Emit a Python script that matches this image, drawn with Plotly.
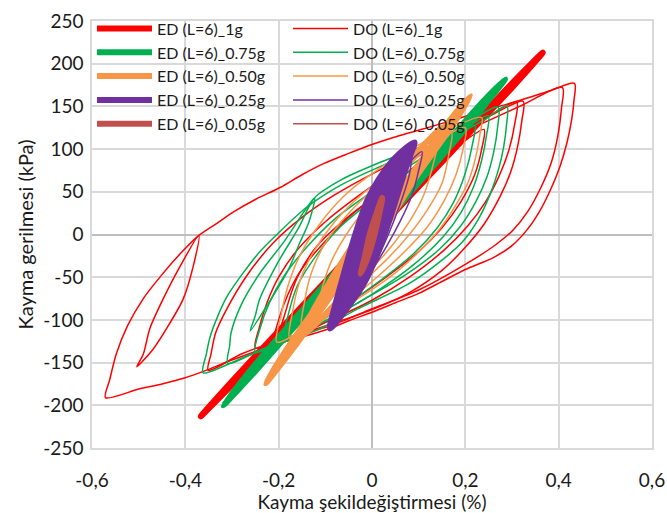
import plotly.graph_objects as go

# ---------------- axis ticks ----------------
X_TICKS = [-0.6, -0.4, -0.2, 0, 0.2, 0.4, 0.6]
X_TICK_LABELS = ["-0,6", "-0,4", "-0,2", "0", "0,2", "0,4", "0,6"]
Y_TICKS = [-250, -200, -150, -100, -50, 0, 50, 100, 150, 200, 250]
Y_TICK_LABELS = ["-250", "-200", "-150", "-100", "-50", "0", "50", "100", "150", "200", "250"]

# ---------------- series (strain %, stress kPa); None separates loops ----------------
# ED (L=6)_1g
ED_1G_X = [-0.367, -0.3, -0.2, -0.1, 0.0, 0.1, 0.2, 0.3, 0.366, 0.3, 0.2, 0.1, 0.0, -0.1, -0.2, -0.3, -0.367]
ED_1G_Y = [-213, -172, -113, -55, 3, 61, 119, 177, 213, 172, 114, 56, -2, -60, -118, -176, -213]

# DO (L=6)_1g
DO_1G_X = [-0.571, -0.562, -0.548, -0.524, -0.49, -0.45, -0.41, -0.371, -0.33, -0.295, -0.25, -0.197, -0.15, -0.104, -0.05, 0.003, 0.06, 0.125, 0.18, 0.24, 0.316, 0.38, 0.434,
           0.433, 0.428, 0.418, 0.403, 0.383, 0.36, 0.333, 0.3, 0.26, 0.2, 0.15, 0.1, 0.05, 0.0, -0.05, -0.09, -0.15, -0.203, -0.26, -0.31, -0.36, -0.402, -0.45, -0.5, -0.571, None,
           -0.371, -0.383, -0.405, -0.44, -0.47, -0.504, -0.49, -0.476, -0.448, -0.411, -0.371, None,
           -0.351, -0.345, -0.335, -0.311, -0.268, -0.212, -0.15, -0.081, 0.011, 0.125, 0.24, 0.316, 0.408,
           0.406, 0.398, 0.384, 0.362, 0.335, 0.302, 0.265, 0.2, 0.1, 0.0, -0.09, -0.2, -0.28, -0.351, None,
           -0.25, -0.242, -0.225, -0.2, -0.16, -0.1, -0.03, 0.05, 0.15, 0.25, 0.324,
           0.321, 0.312, 0.297, 0.274, 0.24, 0.2, 0.15, 0.08, 0.0, -0.1, -0.18, -0.25, None,
           -0.21, -0.2, -0.18, -0.15, -0.1, -0.04, 0.04, 0.13, 0.22, 0.31,
           0.306, 0.293, 0.272, 0.243, 0.205, 0.155, 0.08, 0.0, -0.1, -0.21, None,
           -0.2, -0.185, -0.16, -0.12, -0.066, 0.003, 0.072, 0.164, 0.24,
           0.235, 0.22, 0.19, 0.15, 0.1, 0.03, -0.05, -0.13, -0.2]
DO_1G_Y = [-191, -170, -140, -107, -75, -47, -22, -1, 14, 27, 41, 55, 70, 83, 95, 106, 116, 126, 135, 145, 157, 168, 177,
           158, 135, 108, 80, 53, 28, 6, -13, -27, -41, -55, -69, -80, -91, -101, -110, -120, -128, -139, -149, -160, -168, -175, -181, -191, None,
           -1, -37, -76, -110, -135, -155, -140, -110, -76, -37, -1, None,
           -159, -140, -115, -87, -48, -10, 20, 46, 74, 104, 131, 150, 172,
           148, 115, 84, 55, 28, 5, -12, -35, -65, -87, -107, -124, -140, -159, None,
           -133, -110, -80, -50, -18, 15, 45, 75, 108, 138, 156,
           133, 103, 73, 44, 12, -15, -42, -68, -88, -107, -121, -133, None,
           -128, -100, -70, -40, -8, 25, 58, 95, 128, 155,
           130, 98, 68, 38, 10, -18, -50, -77, -103, -128, None,
           -126, -90, -50, -15, 14, 43, 66, 96, 123,
           100, 70, 38, 8, -20, -50, -80, -105, -126]

# ED (L=6)_0.75g
ED_075G_X = [-0.319, -0.25, -0.15, -0.05, 0.05, 0.15, 0.22, 0.285, 0.22, 0.15, 0.05, -0.05, -0.15, -0.25, -0.319]
ED_075G_Y = [-200, -152, -89, -26, 38, 101, 145, 182, 137, 92, 29, -35, -98, -160, -200]

# DO (L=6)_0.75g
DO_075G_X = [-0.362, -0.355, -0.347, -0.33, -0.31, -0.276, -0.24, -0.2, -0.142, -0.066, 0.011, 0.087, 0.163, 0.24, 0.289,
             0.288, 0.282, 0.271, 0.253, 0.228, 0.195, 0.15, 0.081, -0.026, -0.118, -0.204, -0.28, -0.362, None,
             -0.309, -0.305, -0.302, -0.279, -0.241, -0.188, -0.123,
             -0.135, -0.155, -0.18, -0.226, -0.261, -0.25, -0.241, -0.203, -0.157, -0.123,
             -0.066, 0.011, 0.087, 0.163, 0.27,
             0.269, 0.261, 0.246, 0.222, 0.19, 0.145, 0.07, -0.03, -0.12, -0.2, -0.25, -0.309, None,
             -0.25, -0.24, -0.22, -0.19, -0.14, -0.08, 0.0, 0.08, 0.17, 0.249,
             0.245, 0.235, 0.217, 0.19, 0.152, 0.09, 0.0, -0.1, -0.18, -0.25, None,
             -0.19, -0.18, -0.16, -0.12, -0.07, 0.0, 0.07, 0.15, 0.22,
             0.215, 0.2, 0.175, 0.14, 0.09, 0.02, -0.06, -0.13, -0.19]
DO_075G_Y = [-162, -140, -120, -95, -72, -45, -20, 2, 31, 58, 78, 95, 112, 134, 151,
             127, 102, 76, 47, 18, -8, -30, -57, -86, -112, -129, -145, -162, None,
             -151, -130, -115, -81, -46, -8, 43,
             15, -10, -42, -84, -113, -95, -76, -34, 8, 43,
             64, 83, 99, 117, 149,
             125, 97, 67, 38, 10, -17, -48, -80, -107, -126, -138, -151, None,
             -138, -110, -80, -50, -15, 18, 50, 80, 112, 139,
             115, 87, 55, 25, -3, -35, -70, -101, -122, -138, None,
             -124, -95, -60, -25, 8, 40, 70, 100, 128,
             105, 72, 38, 8, -22, -53, -84, -108, -124]

# ED (L=6)_0.50g
ED_050G_X = [-0.228, -0.17, -0.1, -0.03, 0.04, 0.11, 0.17, 0.211, 0.17, 0.11, 0.04, -0.03, -0.1, -0.17, -0.228, None,
             -0.15, -0.125, -0.09, -0.05, -0.005, 0.04, 0.09, 0.15, 0.125, 0.09, 0.05, 0.01, -0.035, -0.085, -0.15]
ED_050G_Y = [-174, -124, -71, -17, 36, 90, 136, 162, 126, 80, 26, -27, -81, -134, -174, None,
             -118, -88, -55, -20, 18, 55, 92, 125, 96, 64, 28, -10, -48, -85, -118]

# DO (L=6)_0.50g
DO_050G_X = [-0.204, -0.195, -0.18, -0.155, -0.115, -0.06, 0.01, 0.1, 0.235,
             0.232, 0.222, 0.205, 0.18, 0.15, 0.11, 0.05, -0.03, -0.12, -0.204, None,
             -0.176, -0.17, -0.155, -0.125, -0.08, -0.015, 0.07, 0.2,
             0.195, 0.18, 0.155, 0.12, 0.07, 0.0, -0.08, -0.176, None,
             -0.15, -0.145, -0.13, -0.1, -0.05, 0.02, 0.17,
             0.165, 0.15, 0.12, 0.08, 0.03, -0.04, -0.15, None,
             -0.12, -0.11, -0.09, -0.055, -0.005, 0.06, 0.14,
             0.13, 0.11, 0.08, 0.04, -0.01, -0.06, -0.12]
DO_050G_Y = [-126, -95, -60, -25, 10, 45, 75, 105, 137,
             120, 90, 60, 35, 10, -15, -45, -75, -103, -126, None,
             -122, -90, -55, -20, 15, 50, 85, 125,
             100, 70, 40, 10, -20, -55, -90, -122, None,
             -110, -80, -45, -10, 25, 60, 120,
             95, 60, 30, 0, -30, -65, -110, None,
             -100, -70, -35, 0, 35, 70, 110,
             80, 45, 15, -15, -45, -70, -100]

# ED (L=6)_0.25g
ED_025G_X = [-0.09, -0.08, -0.065, -0.047, -0.03, -0.01, 0.015, 0.05, 0.091, 0.08, 0.065, 0.048, 0.03, 0.01, -0.015, -0.045, -0.09, None,
             -0.085, -0.07, -0.052, -0.035, -0.018, 0.005, 0.035, 0.085, 0.065, 0.048, 0.03, 0.012, -0.008, -0.035, -0.085, None,
             -0.078, -0.058, -0.04, -0.02, 0.0, 0.025, 0.075, 0.05, 0.032, 0.015, -0.005, -0.03, -0.078, None,
             -0.07, -0.04, -0.01, 0.02, 0.06, 0.035, 0.005, -0.025, -0.07]
ED_025G_Y = [-110, -85, -55, -20, 10, 40, 65, 90, 108, 90, 65, 35, 5, -25, -55, -80, -110, None,
             -105, -75, -45, -15, 15, 45, 75, 104, 75, 50, 22, -8, -38, -68, -105, None,
             -100, -65, -35, -5, 25, 58, 98, 60, 32, 5, -25, -58, -100, None,
             -90, -45, 0, 45, 90, 50, 5, -40, -90]

# DO (L=6)_0.25g
DO_025G_X = [-0.085, -0.075, -0.055, -0.03, 0.0, 0.04, 0.107,
             0.1, 0.085, 0.06, 0.03, -0.01, -0.085, None,
             -0.07, -0.06, -0.04, -0.01, 0.03, 0.085,
             0.08, 0.06, 0.035, 0.0, -0.07]
DO_025G_Y = [-105, -75, -40, -5, 30, 60, 97,
             75, 45, 15, -15, -50, -105, None,
             -95, -60, -25, 10, 50, 100,
             70, 35, 0, -40, -95]

# ED (L=6)_0.05g
ED_005G_X = [-0.024, -0.015, -0.005, 0.008, 0.022, 0.014, 0.004, -0.008, -0.024]
ED_005G_Y = [-46, -25, 0, 22, 43, 20, -3, -25, -46]

# DO (L=6)_0.05g
DO_005G_X = [-0.02, -0.01, 0.005, 0.02, 0.015, 0.0, -0.012, -0.02]
DO_005G_Y = [-40, -15, 10, 38, 15, -10, -30, -40]

RED = "#FF0000"
GREEN = "#00B050"
ORANGE = "#F79646"
PURPLE = "#7030A0"
BROWN = "#C0504D"

series = [
    ("ED (L=6)_1g", ED_1G_X, ED_1G_Y, RED, 6),
    ("DO (L=6)_1g", DO_1G_X, DO_1G_Y, RED, 1.5),
    ("ED (L=6)_0.75g", ED_075G_X, ED_075G_Y, GREEN, 6),
    ("DO (L=6)_0.75g", DO_075G_X, DO_075G_Y, GREEN, 1.5),
    ("ED (L=6)_0.50g", ED_050G_X, ED_050G_Y, ORANGE, 6),
    ("DO (L=6)_0.50g", DO_050G_X, DO_050G_Y, ORANGE, 1.5),
    ("ED (L=6)_0.25g", ED_025G_X, ED_025G_Y, PURPLE, 6),
    ("DO (L=6)_0.25g", DO_025G_X, DO_025G_Y, PURPLE, 1.5),
    ("ED (L=6)_0.05g", ED_005G_X, ED_005G_Y, BROWN, 6),
    ("DO (L=6)_0.05g", DO_005G_X, DO_005G_Y, BROWN, 1.5),
]

fig = go.Figure()
for name, xs, ys, color, w in series:
    fig.add_trace(go.Scatter(
        x=xs, y=ys, name=name, mode="lines",
        line=dict(color=color, width=w, shape="spline", smoothing=0.8),
        connectgaps=False,
    ))

FONT = "Lato, 'Open Sans', sans-serif"
fig.update_layout(
    width=667, height=513,
    margin=dict(l=92, r=15, t=14, b=65),
    paper_bgcolor="white", plot_bgcolor="white",
    font=dict(family=FONT, size=17, color="#1a1a1a"),
    showlegend=True,
    legend=dict(
        orientation="h", x=0, y=1.022, xanchor="left", yanchor="top",
        bgcolor="rgba(255,255,255,0)", font=dict(size=16),
        entrywidth=126, itemwidth=55, tracegroupgap=0,
    ),
    xaxis=dict(
        range=[-0.6, 0.6], tickvals=X_TICKS, ticktext=X_TICK_LABELS,
        showgrid=True, gridcolor="#d9d9d9", gridwidth=1.5,
        zeroline=True, zerolinecolor="#bfbfbf", zerolinewidth=2,
        showline=True, linecolor="#d9d9d9", linewidth=1.5, mirror=True,
        ticks="", ticklabelstandoff=14, automargin=False, tickfont=dict(size=19),
        title=dict(text="Kayma şekildeğiştirmesi (%)", standoff=0, font=dict(size=19)),
    ),
    yaxis=dict(
        range=[-250, 250], tickvals=Y_TICKS, ticktext=Y_TICK_LABELS,
        showgrid=True, gridcolor="#d9d9d9", gridwidth=1.5,
        zeroline=True, zerolinecolor="#bfbfbf", zerolinewidth=2,
        showline=True, linecolor="#d9d9d9", linewidth=1.5, mirror=True,
        ticks="", ticklabelstandoff=3, automargin=False, tickfont=dict(size=19),
        title=dict(text="Kayma gerilmesi (kPa)", standoff=4, font=dict(size=20)),
    ),
)

fig.write_html("out.html")
